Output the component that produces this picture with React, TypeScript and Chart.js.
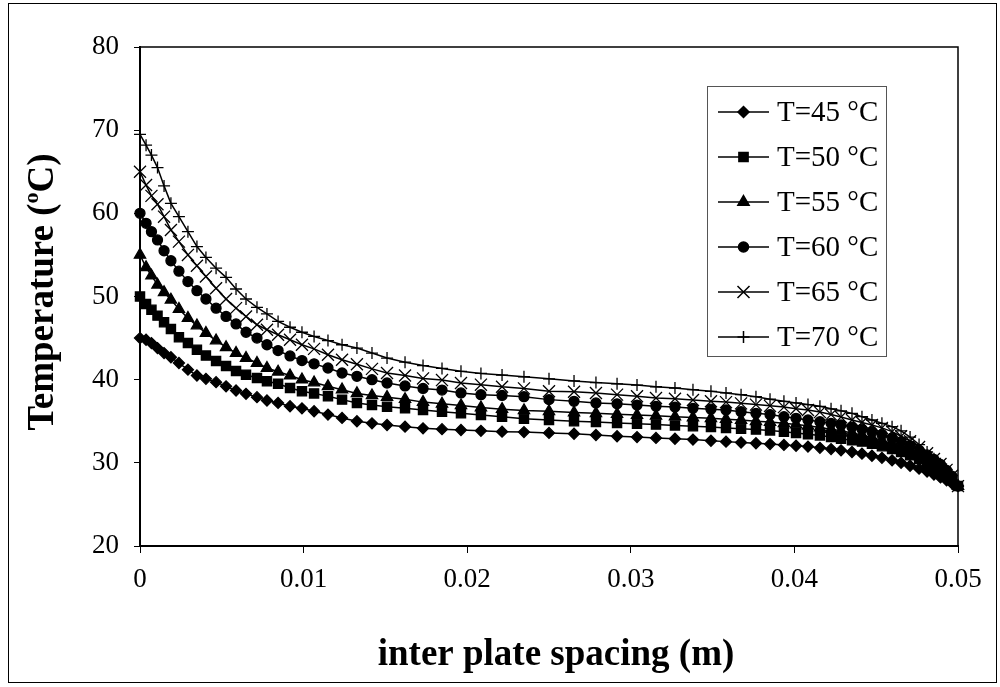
import React, { useEffect, useRef } from "react";
import { Chart, registerables } from "chart.js";

Chart.register(...registerables);

// Node positions across the gap (m); the grid is refined towards both plates.
const spacing: number[] = [
  0, 0.00037, 0.0007, 0.00107, 0.00147, 0.00189, 0.00238, 0.00293, 0.00348, 0.00403,
  0.00465, 0.00526, 0.00587, 0.00648, 0.00715, 0.00776, 0.00844, 0.00917, 0.0099, 0.01064,
  0.01149, 0.01235, 0.01326, 0.01418, 0.0151, 0.0162, 0.0173, 0.01846, 0.01962, 0.02084,
  0.02213, 0.02347, 0.025, 0.02653, 0.02787, 0.02916, 0.03038, 0.03154, 0.0327, 0.0338,
  0.0349, 0.03582, 0.03674, 0.03765, 0.03851, 0.03936, 0.0401, 0.04083, 0.04156, 0.04224,
  0.04285, 0.04352, 0.04413, 0.04474, 0.04535, 0.04597, 0.04652, 0.04707, 0.04762, 0.04811,
  0.04853, 0.04893, 0.0493, 0.04963, 0.05,
];

const temp45: number[] = [
  45.0, 44.8, 44.4, 43.8, 43.2, 42.7, 42.0, 41.2, 40.5, 40.1,
  39.7, 39.2, 38.7, 38.3, 37.9, 37.5, 37.2, 36.8, 36.55, 36.2,
  35.8, 35.4, 35.0, 34.75, 34.55, 34.35, 34.15, 34.05, 33.95, 33.85,
  33.75, 33.7, 33.6, 33.5, 33.35, 33.2, 33.1, 33.0, 32.9, 32.8,
  32.65, 32.55, 32.45, 32.35, 32.25, 32.15, 32.05, 31.95, 31.8, 31.65,
  31.5, 31.3, 31.1, 30.85, 30.6, 30.3, 30.0, 29.65, 29.3, 28.95,
  28.6, 28.25, 27.9, 27.55, 27.2,
];

const temp50: number[] = [
  50.0, 49.1, 48.4, 47.7, 46.9, 46.1, 45.1, 44.4, 43.6, 42.9,
  42.25, 41.65, 41.05, 40.6, 40.2, 39.8, 39.5, 39.0, 38.6, 38.35,
  38.0, 37.6, 37.2, 36.95, 36.75, 36.55, 36.35, 36.15, 35.95, 35.75,
  35.55, 35.3, 35.15, 35.0, 34.9, 34.8, 34.7, 34.6, 34.5, 34.4,
  34.3, 34.2, 34.1, 34.0, 33.9, 33.75, 33.6, 33.45, 33.3, 33.1,
  32.9, 32.7, 32.55, 32.3, 32.0, 31.65, 31.3, 30.9, 30.45, 30.0,
  29.55, 29.05, 28.5, 27.95, 27.2,
];

const temp55: number[] = [
  55.0, 53.5, 52.5, 51.4, 50.5, 49.6, 48.5, 47.4, 46.5, 45.6,
  44.7, 43.9, 43.2, 42.6, 42.0, 41.4, 40.95, 40.5, 40.0, 39.65,
  39.2, 38.8, 38.35, 38.1, 37.9, 37.65, 37.3, 37.1, 36.9, 36.65,
  36.45, 36.3, 36.2, 36.05, 35.95, 35.85, 35.75, 35.65, 35.55, 35.45,
  35.35, 35.25, 35.15, 35.0, 34.9, 34.75, 34.6, 34.45, 34.25, 34.05,
  33.85, 33.6, 33.35, 33.05, 32.7, 32.3, 31.9, 31.4, 30.85, 30.3,
  29.8, 29.25, 28.65, 28.0, 27.2,
];

const temp60: number[] = [
  60.0, 58.8, 57.8, 56.8, 55.5, 54.3, 53.05, 51.8, 50.7, 49.7,
  48.6, 47.6, 46.7, 45.7, 45.0, 44.2, 43.5, 42.85, 42.3, 41.9,
  41.4, 40.8, 40.4, 40.0, 39.6, 39.25, 38.95, 38.75, 38.4, 38.2,
  38.1, 37.95, 37.6, 37.4, 37.2, 37.1, 36.95, 36.8, 36.7, 36.55,
  36.45, 36.35, 36.15, 35.95, 35.8, 35.55, 35.35, 35.15, 34.95, 34.75,
  34.55, 34.3, 34.05, 33.75, 33.4, 33.0, 32.55, 32.05, 31.5, 30.95,
  30.4, 29.8, 29.1, 28.4, 27.2,
];

const temp65: number[] = [
  65.0, 63.4, 62.1, 61.1, 59.6, 58.0, 56.6, 55.0, 53.7, 52.4,
  51.0, 49.7, 48.6, 47.6, 46.6, 46.0, 45.4, 44.8, 44.2, 43.7,
  43.0, 42.4, 41.85, 41.3, 40.8, 40.5, 40.15, 39.95, 39.6, 39.4,
  39.15, 38.95, 38.6, 38.55, 38.4, 38.2, 38.0, 37.8, 37.7, 37.55,
  37.4, 37.3, 37.15, 37.0, 36.85, 36.7, 36.5, 36.35, 36.1, 35.8,
  35.5, 35.15, 34.85, 34.55, 34.2, 33.75, 33.2, 32.6, 31.9, 31.15,
  30.45, 29.85, 29.15, 28.45, 27.2,
];

const temp70: number[] = [
  69.5, 68.2, 67.0, 65.5, 63.3, 61.2, 59.6, 57.8, 56.0, 54.7,
  53.4, 52.3, 50.9, 49.7, 48.7, 47.9, 47.0, 46.3, 45.7, 45.2,
  44.7, 44.2, 43.8, 43.2, 42.6, 42.1, 41.7, 41.35, 41.0, 40.75,
  40.55, 40.35, 40.1, 39.85, 39.65, 39.5, 39.35, 39.15, 39.0, 38.8,
  38.6, 38.4, 38.2, 37.95, 37.65, 37.4, 37.2, 37.0, 36.8, 36.5,
  36.25, 35.95, 35.55, 35.15, 34.75, 34.35, 33.85, 33.1, 32.2, 31.3,
  30.5, 29.9, 29.2, 28.5, 27.2,
];

const seriesLabels: string[] = ["T=45 °C", "T=50 °C", "T=55 °C", "T=60 °C", "T=65 °C", "T=70 °C"];
const seriesValues: number[][] = [temp45, temp50, temp55, temp60, temp65, temp70];
const xTickValues: number[] = [0, 0.01, 0.02, 0.03, 0.04, 0.05];
const yTickValues: number[] = [20, 30, 40, 50, 60, 70, 80];

const SERIF = "'Liberation Serif', 'Times New Roman', Times, serif";
const INK = "#000000";

type Marker = { style: string; radius: number };
const markers: Marker[] = [
  { style: "rectRot", radius: 5.5 },
  { style: "rect", radius: 6.5 },
  { style: "triangle", radius: 6.5 },
  { style: "circle", radius: 5 },
  { style: "crossRot", radius: 8.5 },
  { style: "cross", radius: 6 },
];

// Same geometry Chart.js uses for its point styles, for the legend keys.
function drawMarker(ctx: CanvasRenderingContext2D, m: Marker, x: number, y: number) {
  const r = m.radius;
  ctx.beginPath();
  switch (m.style) {
    case "rectRot":
      ctx.moveTo(x, y - r);
      ctx.lineTo(x + r, y);
      ctx.lineTo(x, y + r);
      ctx.lineTo(x - r, y);
      ctx.closePath();
      ctx.fill();
      ctx.stroke();
      break;
    case "rect": {
      const s = r * Math.SQRT1_2;
      ctx.rect(x - s, y - s, 2 * s, 2 * s);
      ctx.fill();
      ctx.stroke();
      break;
    }
    case "triangle":
      ctx.moveTo(x, y - r);
      ctx.lineTo(x + r * 0.866, y + r * 0.5);
      ctx.lineTo(x - r * 0.866, y + r * 0.5);
      ctx.closePath();
      ctx.fill();
      ctx.stroke();
      break;
    case "circle":
      ctx.arc(x, y, r, 0, Math.PI * 2);
      ctx.fill();
      ctx.stroke();
      break;
    case "crossRot": {
      const o = r * Math.SQRT1_2;
      ctx.moveTo(x - o, y - o);
      ctx.lineTo(x + o, y + o);
      ctx.moveTo(x + o, y - o);
      ctx.lineTo(x - o, y + o);
      ctx.stroke();
      break;
    }
    default:
      ctx.moveTo(x, y - r);
      ctx.lineTo(x, y + r);
      ctx.moveTo(x - r, y);
      ctx.lineTo(x + r, y);
      ctx.stroke();
  }
}

const framePlugin = {
  id: "frame",
  beforeDraw(chart: Chart) {
    const { ctx, width, height } = chart;
    ctx.save();
    ctx.fillStyle = "#ffffff";
    ctx.fillRect(0, 0, width, height);
    ctx.restore();
  },
  afterDraw(chart: Chart) {
    const { ctx, chartArea: a } = chart;
    ctx.save();

    // outer figure border
    ctx.strokeStyle = INK;
    ctx.lineWidth = 1;
    ctx.strokeRect(8.5, 3.5, 988, 679);

    // closing top and right edges of the plot box
    ctx.lineWidth = 1.5;
    ctx.beginPath();
    ctx.moveTo(a.left, a.top);
    ctx.lineTo(a.right, a.top);
    ctx.lineTo(a.right, a.bottom);
    ctx.stroke();

    // x axis title
    ctx.fillStyle = INK;
    ctx.font = `bold 37px ${SERIF}`;
    ctx.textAlign = "center";
    ctx.textBaseline = "middle";
    ctx.fillText("inter plate spacing (m)", 556, 655);

    // y axis title with a raised "o"
    ctx.save();
    ctx.translate(40, 292);
    ctx.rotate(-Math.PI / 2);
    const mainFont = `bold 37px ${SERIF}`;
    const supFont = `bold 22px ${SERIF}`;
    const parts = [
      { t: "Temperature (", f: mainFont, dy: 0 },
      { t: "o", f: supFont, dy: -15 },
      { t: "C)", f: mainFont, dy: 0 },
    ];
    let total = 0;
    for (const p of parts) {
      ctx.font = p.f;
      total += ctx.measureText(p.t).width;
    }
    let cx = -total / 2;
    ctx.textAlign = "left";
    ctx.textBaseline = "alphabetic";
    for (const p of parts) {
      ctx.font = p.f;
      ctx.fillText(p.t, cx, 13 + p.dy);
      cx += ctx.measureText(p.t).width;
    }
    ctx.restore();

    // legend
    ctx.strokeStyle = "#555555";
    ctx.lineWidth = 1;
    ctx.strokeRect(707.5, 86.5, 179, 270);
    ctx.font = `29px ${SERIF}`;
    ctx.textAlign = "left";
    ctx.textBaseline = "middle";
    seriesLabels.forEach((label, i) => {
      const y = 112 + i * 45;
      ctx.strokeStyle = INK;
      ctx.fillStyle = INK;
      ctx.lineWidth = 1.5;
      ctx.beginPath();
      ctx.moveTo(718, y);
      ctx.lineTo(769, y);
      ctx.stroke();
      drawMarker(ctx, markers[i], 743.5, y);
      ctx.fillText(label, 777, y + 1);
    });

    ctx.restore();
  },
};

export default function App() {
  const canvasRef = useRef<HTMLCanvasElement | null>(null);

  useEffect(() => {
    const canvas = canvasRef.current;
    if (!canvas) return;

    const datasets = seriesValues.map((vals, i) => ({
      label: seriesLabels[i],
      data: spacing.map((x, j) => ({ x, y: vals[j] })),
      borderColor: INK,
      backgroundColor: INK,
      borderWidth: 1.5,
      pointStyle: markers[i].style as any,
      pointRadius: markers[i].radius,
      pointBackgroundColor: INK,
      pointBorderColor: INK,
      pointBorderWidth: 1.3,
      tension: 0,
      fill: false,
      clip: false as any,
    }));

    const chart = new Chart(canvas, {
      type: "line",
      data: { datasets },
      options: {
        animation: false,
        responsive: false,
        devicePixelRatio: 1,
        events: [],
        layout: { padding: { left: 0, right: 42, top: 47, bottom: 0 } },
        plugins: { legend: { display: false }, tooltip: { enabled: false } },
        scales: {
          x: {
            type: "linear",
            min: 0,
            max: 0.05,
            afterBuildTicks: (s: any) => {
              s.ticks = xTickValues.map((v) => ({ value: v }));
            },
            afterFit: (s: any) => {
              s.height = 141;
            },
            grid: { drawOnChartArea: false, drawTicks: true, tickLength: 7, color: INK, lineWidth: 1 },
            border: { display: true, color: INK, width: 2 },
            ticks: {
              color: INK,
              font: { family: SERIF, size: 27 },
              padding: 11,
              maxRotation: 0,
              autoSkip: false,
              callback: (v: any) => (Number(v) === 0 ? "0" : Number(v).toFixed(2)),
            },
          },
          y: {
            type: "linear",
            min: 20,
            max: 80,
            afterBuildTicks: (s: any) => {
              s.ticks = yTickValues.map((v) => ({ value: v }));
            },
            afterFit: (s: any) => {
              s.width = 140;
            },
            grid: { drawOnChartArea: false, drawTicks: true, tickLength: 6, color: INK, lineWidth: 1 },
            border: { display: true, color: INK, width: 2 },
            ticks: {
              color: INK,
              font: { family: SERIF, size: 27 },
              padding: 15,
              callback: (v: any) => String(v),
            },
          },
        },
      },
      plugins: [framePlugin],
    });

    return () => chart.destroy();
  }, []);

  return (
    <div style={{ position: "absolute", left: 0, top: 0, width: 1000, height: 687, background: "#fff" }}>
      <canvas ref={canvasRef} width={1000} height={687} style={{ display: "block", width: 1000, height: 687 }} />
    </div>
  );
}
